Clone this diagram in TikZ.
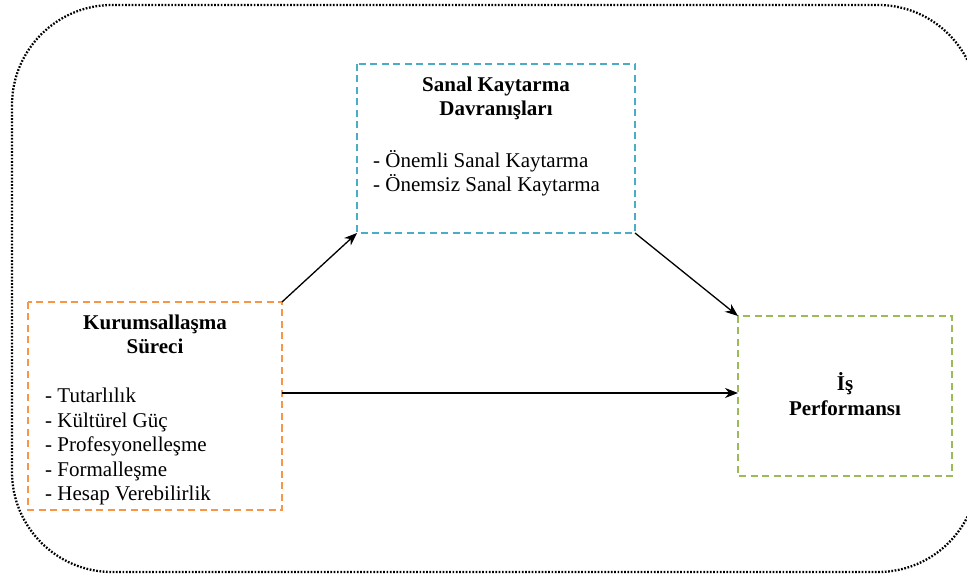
\documentclass[tikz,border=0pt]{standalone}
\usepackage{fontspec}
\setmainfont{Liberation Serif}
\usetikzlibrary{arrows.meta}
\definecolor{boxblue}{HTML}{4BACC6}
\definecolor{boxorange}{HTML}{F79646}
\definecolor{boxgreen}{HTML}{9BBB59}
\begin{document}
\begin{tikzpicture}[x=1pt,y=-1pt,
  dbox/.style={draw, line width=2pt, dash pattern=on 7pt off 4.5pt, inner sep=0pt},
  ttl/.style={font=\fontsize{21}{24.5}\selectfont\bfseries, inner sep=0pt, anchor=base},
  itm/.style={font=\fontsize{21}{24.5}\selectfont, inner sep=0pt, anchor=base west},
  arr/.style={line width=1.3pt, -{Stealth[length=13pt,width=10pt]}}]
\useasboundingbox (0,0) rectangle (967,577);
\begin{scope}
\clip (0,0) rectangle (967,577);
\draw[line width=2.3pt, dash pattern=on 1.7pt off 1.6pt, rounded corners=100pt] (12,5) rectangle (978,572);
\end{scope}
% boxes
\draw[dbox, boxblue] (357,64) rectangle (635,233);
\coordinate (bSW) at (357,233);
\coordinate (bSE) at (635,233);
\draw[dbox, boxorange] (28,302) rectangle (282,510);
\coordinate (oNE) at (282,302);
\coordinate (oE) at (282,393);
\draw[dbox, boxgreen] (738,316) rectangle (952,476);
\coordinate (gNW) at (738,316);
\coordinate (gW) at (738,393);
% texts
\node[ttl] (s1) at (496,92) {Sanal Kaytarma};
\node[ttl] (s2) at (496,116) {Davranışları};
\node[itm] (s3) at (373,168) {- Önemli Sanal Kaytarma};
\node[itm] (s4) at (373,192) {- Önemsiz Sanal Kaytarma};
\node[ttl] (k1) at (155,330) {Kurumsallaşma};
\node[ttl] (k2) at (155,354) {Süreci};
\node[itm] (k3) at (45,402.5) {- Tutarlılık};
\node[itm] (k4) at (45,427) {- Kültürel Güç};
\node[itm] (k5) at (45,451.5) {- Profesyonelleşme};
\node[itm] (k6) at (45,476) {- Formalleşme};
\node[itm] (k7) at (45,500.5) {- Hesap Verebilirlik};
\node[ttl] (g1) at (845,391) {İş};
\node[ttl] (g2) at (845,415) {Performansı};
% arrows
\draw[arr] (oNE) -- (bSW);
\draw[arr] (bSE) -- (gNW);
\draw[arr] (oE) -- (gW);
\end{tikzpicture}
\end{document}
